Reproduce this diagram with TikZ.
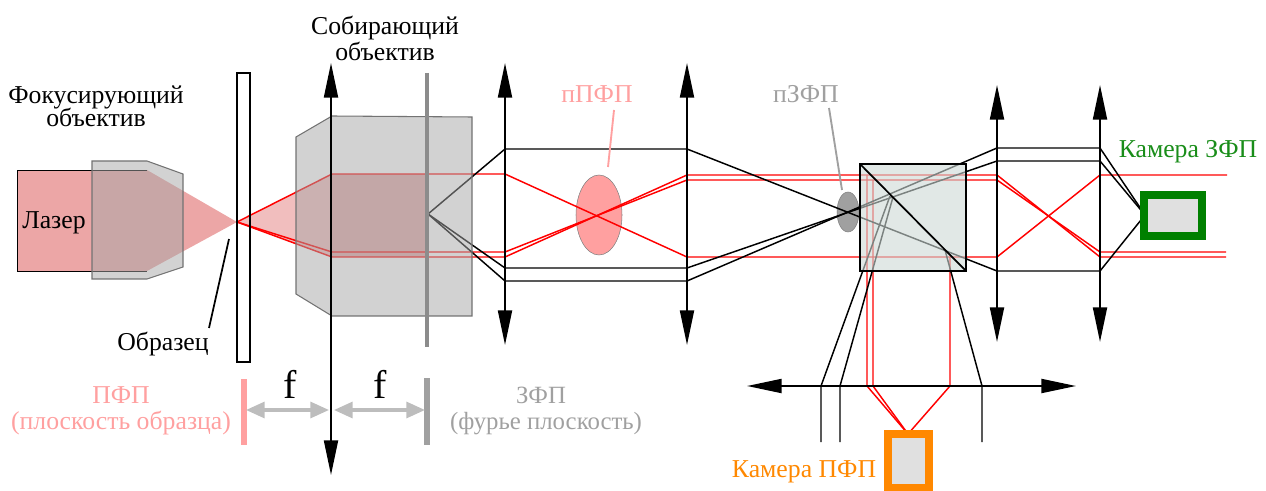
\documentclass[tikz,border=0pt]{standalone}
\usepackage{fontspec}
\setmainfont{Liberation Serif}
\usetikzlibrary{arrows.meta,positioning,shapes.geometric}
\definecolor{pinkrg}{RGB}{255,160,160}
\definecolor{greyrg}{RGB}{160,160,160}
\definecolor{camgreen}{RGB}{0,128,0}
\definecolor{camorange}{RGB}{255,136,0}
\definecolor{laserrg}{RGB}{236,166,166}
\definecolor{fanrg}{RGB}{241,190,190}
\definecolor{fancore}{RGB}{225,170,170}
\definecolor{cuberg}{RGB}{205,217,214}

\begin{document}
\begin{tikzpicture}[
    x=0.75pt, y=-0.75pt,
    label/.style={font=\fontsize{19.3}{19.5}\selectfont, align=center, inner sep=0pt},
    lens/.style={{Triangle[length=26pt,width=10.5pt]}-{Triangle[length=26pt,width=10.5pt]}, line width=1.5pt},
    objective/.style={fill=black!35, fill opacity=0.5, draw=black!55, line width=0.8pt},
    beam/.style={red, line width=1.1pt},
    ray/.style={black, line width=1.1pt},
    plane/.style={line width=4.5pt},
    focal/.style={{Triangle[length=14pt,width=12pt]}-{Triangle[length=14pt,width=12pt]}, black!26, line width=2.4pt},
    camera/.style={draw, fill=black!12, line width=6pt, minimum width=0pt}
]
\useasboundingbox (0,0) rectangle (1266,491);

% Laser and focused beam
\fill[laserrg] (147,170) -- (237,222) -- (147,271) -- cycle;
\draw[fill=laserrg, line width=0.7pt] (147,170) -- (17,170) -- (17,271) -- (147,271);
\fill[fanrg] (237,222) -- (332,174) -- (332,257) -- cycle;
\fill[fancore] (332,174) rectangle (427,257);

% Pupil planes
\node[ellipse, draw=black!50, fill=pinkrg, minimum width=34.5pt, minimum height=60pt, inner sep=0pt] (ppfp) at (599,215) {};
\node[ellipse, draw=black!50, fill=greyrg, minimum width=16.5pt, minimum height=30pt, inner sep=0pt] (pzfp) at (848,212) {};

% Red rays
\draw[beam] (237,222) -- (332,174) -- (505,174) -- (687,257) -- (997,257) -- (1100,175) -- (1227,175);
\draw[beam] (237,222) -- (332,252) -- (505,252) -- (687,180) -- (997,180) -- (1100,252) -- (1226,252);
\draw[beam] (237,222) -- (332,257) -- (505,257) -- (687,175) -- (997,175) -- (1100,257) -- (1226,257);
\draw[beam] (867,175) -- (867,386) -- (908,434);
\draw[beam] (873,180) -- (873,386) -- (908,434);
\draw[beam] (950,257) -- (950,386) -- (908,434);

% Black rays
\draw[ray] (428,214) -- (505,149) -- (687,149) -- (997,271) -- (1100,271) -- (1145,215);
\draw[ray] (428,214) -- (505,268) -- (687,268) -- (997,161) -- (1100,161) -- (1145,215);
\draw[ray] (428,214) -- (505,281) -- (687,281) -- (997,148) -- (1100,148) -- (1145,215);
\draw[ray] (890,196) -- (821,386) -- (821,442);
\draw[ray] (893,197) -- (840,386) -- (840,442);
\draw[ray] (945,250) -- (982,386) -- (982,442);

% Objectives
\draw[objective] (92,161) -- (147,161) -- (183,174) -- (183,267) -- (147,279) -- (92,279) -- cycle;
\draw[objective] (296,137) -- (332,116) -- (472,117) -- (472,316) -- (332,316) -- (296,294) -- cycle;

% Beam splitter
\draw[fill=cuberg, fill opacity=0.6, line width=1.3pt] (860,164) rectangle (966,271);
\draw[line width=1.3pt] (860,164) -- (966,271);

% Sample and Fourier plane
\draw[line width=1.5pt] (237,73) rectangle (250,362);
\draw[black!45, line width=3pt] (427,73) -- (427,347);
\draw[line width=1.3pt] (229,239) -- (209,328);

% Lenses
\draw[lens] (331,63) -- (331,475);
\draw[lens] (505,63) -- (505,345);
\draw[lens] (687,63) -- (687,345);
\draw[lens] (997,85) -- (997,342);
\draw[lens] (1100,85) -- (1100,342);
\draw[lens] (747,386) -- (1076,386);

% Cameras
\node[camera, draw=camgreen, minimum width=43.5pt, minimum height=30.75pt, inner sep=0pt] (camz) at (1173,215.5) {};
\node[camera, draw=camorange, minimum width=30.75pt, minimum height=40pt, inner sep=0pt] (camp) at (908,461) {};

% Focal distances
\draw[plane, pinkrg] (244,379) -- (244,445);
\draw[plane, greyrg] (427,378) -- (427,445);
\draw[focal] (246,410) -- (329,410);
\draw[focal] (334,410) -- (425,410);
\node[font=\fontsize{30}{30}\selectfont, inner sep=0pt] (f1) at (290,384) {f};
\node[font=\fontsize{30}{30}\selectfont, inner sep=0pt] (f2) at (380,384) {f};

% Labels
\node[label] (collect) at (385,38.5) {Собирающий\\[0.5pt]объектив};
\node[label] (focus) at (96,106) {Фокусирующий\\[-2pt]объектив};
\node[label] (laser) at (54,223) {Лазер};
\node[label] (sample) at (163,344) {Образец};
\node[label, pinkrg] (ppfptext) at (597,94) {пПФП};
\node[label, greyrg] (pzfptext) at (806,94) {пЗФП};
\node[label, camgreen!90!white] (camztext) at (1188,152) {Камера ЗФП};
\node[label, camorange] (camptext) at (804,472) {Камера ПФП};
\node[label, pinkrg] (pfp) at (121,411) {ПФП\\(плоскость образца)};
\node[label, greyrg, font=\fontsize{18.6}{19.5}\selectfont] (zfp) at (546,411) {ЗФП\hspace*{7.5pt}\\(фурье плоскость)};

% Pointers
\coordinate (ppfptip) at (608,167);
\coordinate (pzfptip) at (842,190);
\draw[pinkrg, line width=1.4pt] (614,110) -- (ppfptip);
\draw[greyrg, line width=1.4pt] (829,108) -- (pzfptip);

\end{tikzpicture}
\end{document}
